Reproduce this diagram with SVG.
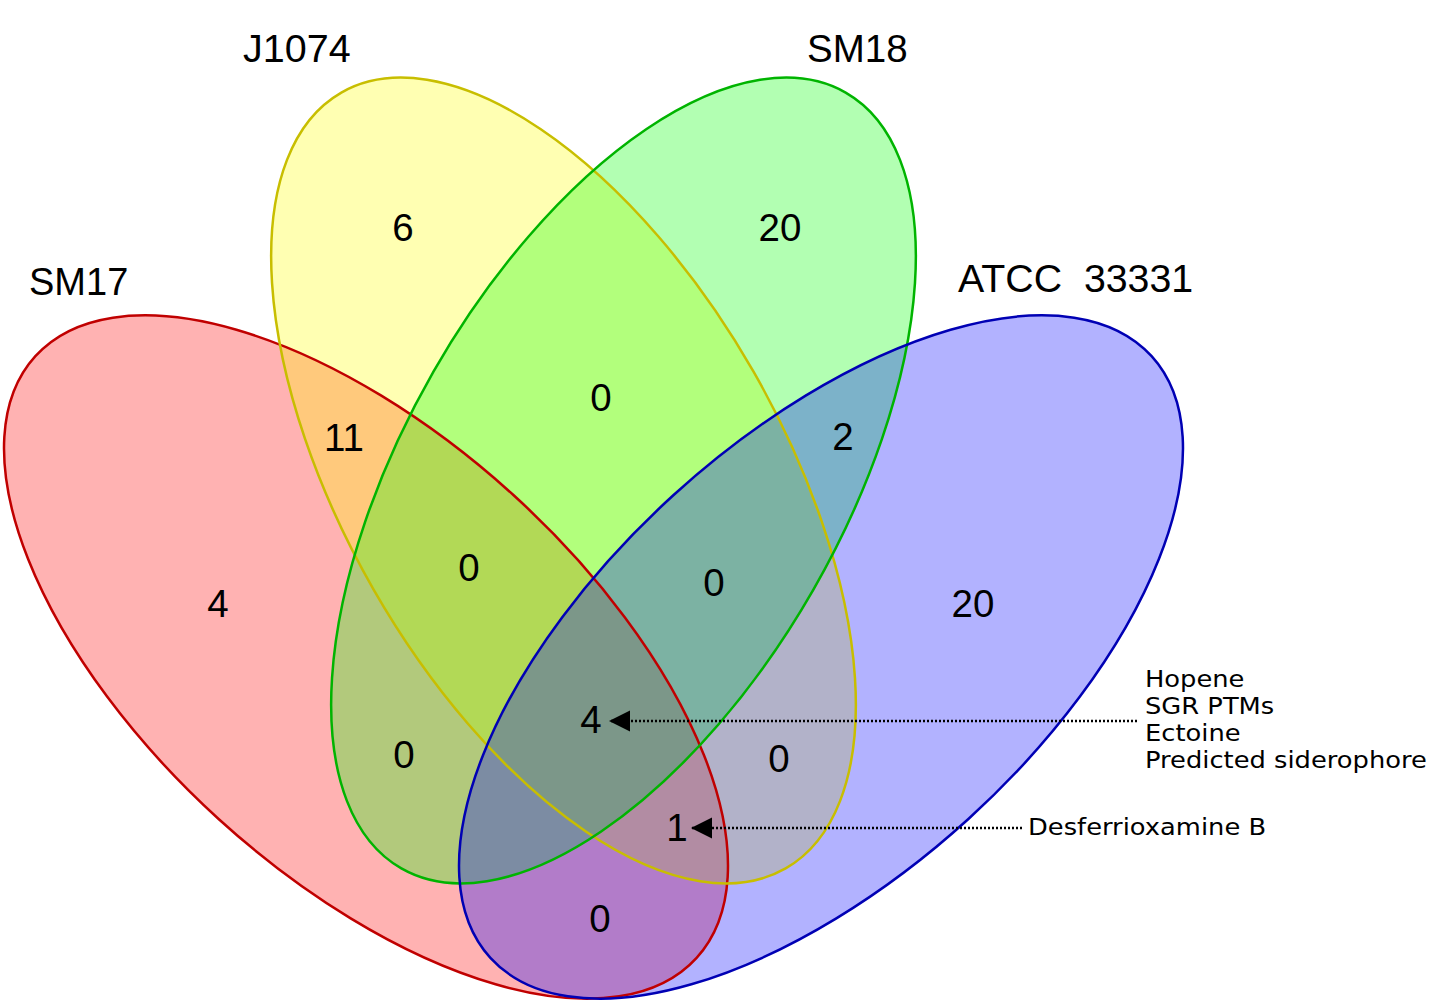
<svg xmlns="http://www.w3.org/2000/svg" width="1434" height="1005" viewBox="0 0 1434 1005">
<style>
.fill{stroke:none;fill-opacity:0.3}
.edge{fill:none;stroke-width:2.5}
.lab{font-family:"Liberation Sans",Arial,sans-serif;font-size:38px;fill:#000}
.num{font-family:"Liberation Sans",Arial,sans-serif;font-size:38.5px;fill:#000;text-anchor:middle}
.ann{font-family:"DejaVu Sans",sans-serif;font-size:23px;fill:#000}
.dot{stroke:#000;stroke-width:2.5;stroke-dasharray:2 2;fill:none}
</style>
<defs>
<marker id="arr" markerUnits="userSpaceOnUse" markerWidth="24" markerHeight="24" refX="21" refY="10.5" orient="auto">
<path d="M0,0 L21,10.5 L0,21 Z" fill="#000"/>
</marker>
</defs>
<rect width="1434" height="1005" fill="#fff"/>
<g id="fills">
<ellipse class="fill" fill="#ff0000" rx="447" ry="219" transform="translate(366 657) rotate(42.3)"/>
<ellipse class="fill" fill="#ffff00" rx="447" ry="219" transform="translate(563.5 480.5) rotate(60.2)"/>
<ellipse class="fill" fill="#00ff00" rx="447" ry="219" transform="translate(623.5 480.5) rotate(-60.2)"/>
<ellipse class="fill" fill="#0000ff" rx="447" ry="219" transform="translate(821 657) rotate(-42.3)"/>
</g>
<g id="SM17">
<ellipse class="edge" stroke="#c00000" rx="447" ry="219" transform="translate(366 657) rotate(42.3)"/>
<text class="lab" x="29" y="295">SM17</text>
</g>
<g id="J1074">
<ellipse class="edge" stroke="#c8be00" rx="447" ry="219" transform="translate(563.5 480.5) rotate(60.2)"/>
<text class="lab" x="243" y="62" style="font-size:39.5px">J1074</text>
</g>
<g id="SM18">
<ellipse class="edge" stroke="#00b400" rx="447" ry="219" transform="translate(623.5 480.5) rotate(-60.2)"/>
<text class="lab" x="807" y="62" style="font-size:38.5px">SM18</text>
</g>
<g id="ATCC33331">
<ellipse class="edge" stroke="#0000b4" rx="447" ry="219" transform="translate(821 657) rotate(-42.3)"/>
<text class="lab" x="958" y="292" style="font-size:39.3px" xml:space="preserve">ATCC  33331</text>
</g>
<g id="counts">
<text class="num" x="403" y="241">6</text>
<text class="num" x="780" y="241">20</text>
<text class="num" x="344" y="451">11</text>
<text class="num" x="601" y="411">0</text>
<text class="num" x="843" y="450">2</text>
<text class="num" x="218" y="617">4</text>
<text class="num" x="469" y="581">0</text>
<text class="num" x="714" y="596">0</text>
<text class="num" x="973" y="617">20</text>
<text class="num" x="591" y="733">4</text>
<text class="num" x="404" y="768">0</text>
<text class="num" x="779" y="772">0</text>
<text class="num" x="677" y="841">1</text>
<text class="num" x="600" y="932">0</text>
</g>
<g id="connectors">
<line class="dot" x1="1137" y1="721" x2="609" y2="721" marker-end="url(#arr)"/>
<line class="dot" x1="1022" y1="828" x2="691" y2="828" marker-end="url(#arr)"/>
</g>
<g id="annotations">
<text class="ann" transform="translate(1145 687) scale(1.12 1)">Hopene</text>
<text class="ann" transform="translate(1145 714) scale(1.12 1)">SGR PTMs</text>
<text class="ann" transform="translate(1145 741) scale(1.12 1)">Ectoine</text>
<text class="ann" transform="translate(1145 768) scale(1.12 1)">Predicted siderophore</text>
<text class="ann" transform="translate(1028 835) scale(1.12 1)">Desferrioxamine B</text>
</g>
</svg>
